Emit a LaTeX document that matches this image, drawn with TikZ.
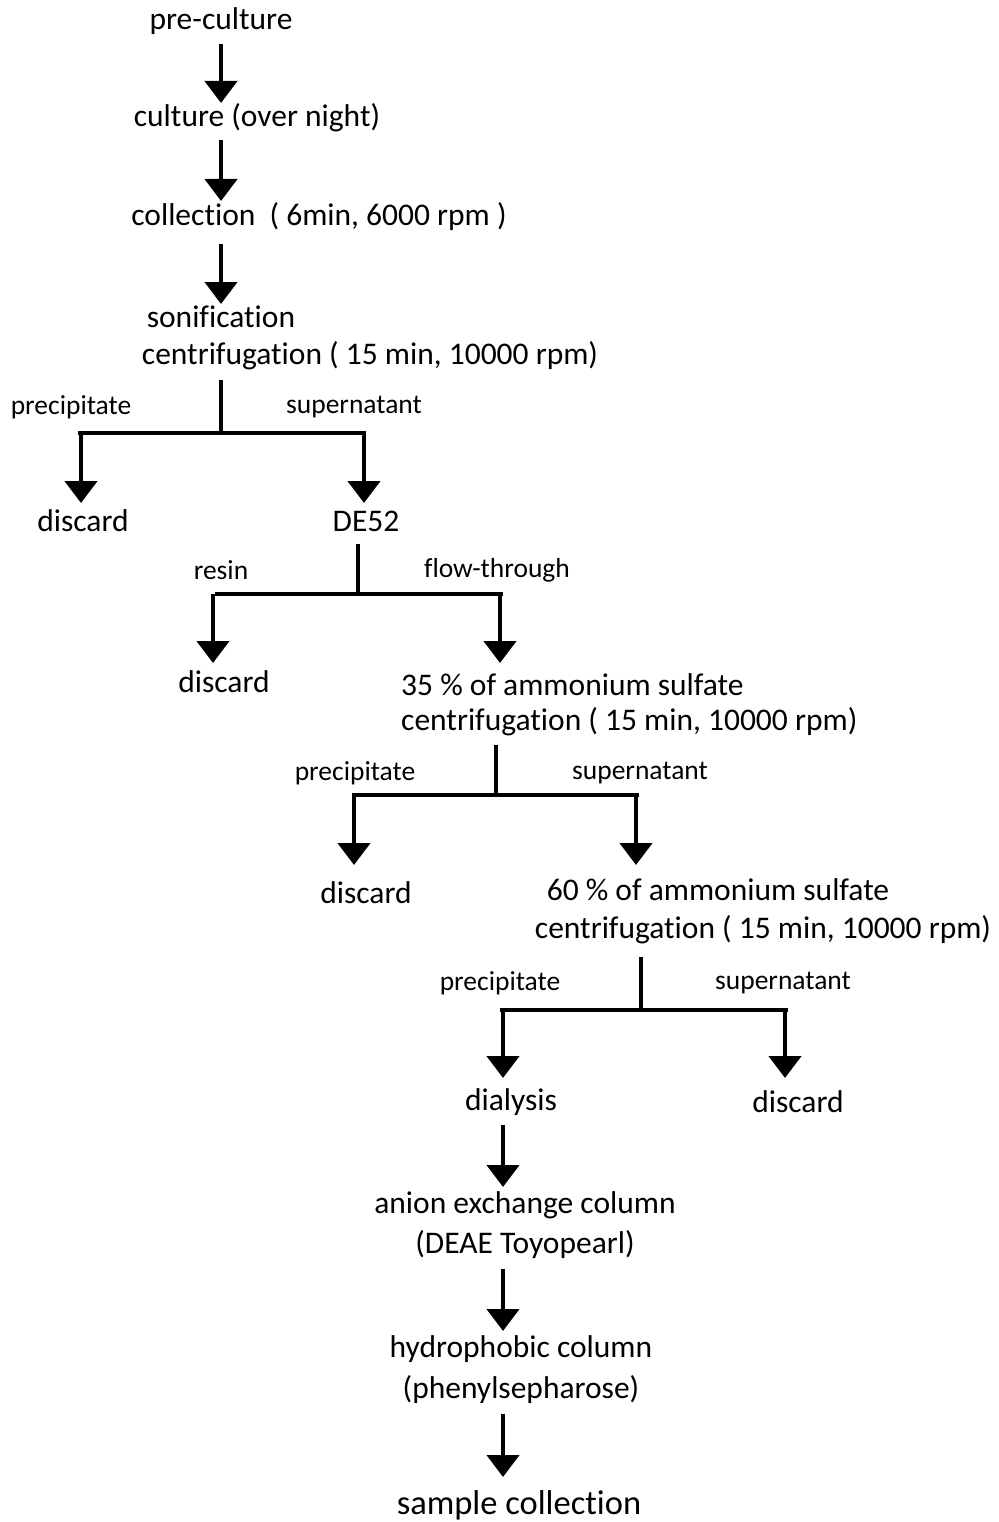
\documentclass[tikz,border=0pt]{standalone}
\usepackage{fontspec}
\setmainfont[Ligatures={NoCommon}]{Carlito}
\usetikzlibrary{arrows.meta}
\tikzset{
  main/.style={inner sep=0pt, font=\fontsize{31.5}{38}\selectfont},
  big/.style={inner sep=0pt, font=\fontsize{34.5}{41}\selectfont},
  lab/.style={inner sep=0pt, font=\fontsize{27.5}{33}\selectfont},
  arr/.style={line width=4.5pt, -{Triangle[width=32pt,length=22pt]}},
  ln/.style={line width=4.5pt},
}
\begin{document}
\begin{tikzpicture}[x=1pt,y=-1pt]
\useasboundingbox (0,0) rectangle (998,1522);
% texts
\node[main] (pre) at (221,21) {pre-culture};
\node[main] (cult) at (257,118) {culture (over night)};
\node[main] (coll) at (319,217) {collection\ \ ( 6min, 6000 rpm )};
\node[main] (soni) at (221,317) {sonification};
\node[main] (cen1) at (370,356) {centrifugation ( 15 min, 10000 rpm)};
\node[lab] (pr1) at (71,407) {precipitate};
\node[lab] (su1) at (354,407) {supernatant};
\node[main] (dis1) at (83,521) {discard};
\node[main] (de52) at (366,521) {DE52};
\node[lab] (resin) at (221,570) {resin};
\node[lab] (flow) at (497,570) {flow-through};
\node[main] (dis2) at (224,682) {discard};
\node[main,anchor=west] (am35) at (401,685) {35 \% of ammonium sulfate};
\node[main,anchor=west] (cen2) at (401,722) {centrifugation ( 15 min, 10000 rpm)};
\node[lab] (pr2) at (355,773) {precipitate};
\node[lab] (su2) at (640,773) {supernatant};
\node[main] (dis3) at (366,893) {discard};
\node[main] (am60) at (718,890) {60 \% of ammonium sulfate};
\node[main] (cen3) at (763,930) {centrifugation ( 15 min, 10000 rpm)};
\node[lab] (pr3) at (500,983) {precipitate};
\node[lab] (su3) at (783,983) {supernatant};
\node[main] (dial) at (511,1102) {dialysis};
\node[main] (dis4) at (798,1102) {discard};
\node[main] (anion) at (525,1205) {anion exchange column};
\node[main] (deae) at (525,1245) {(DEAE Toyopearl)};
\node[main] (hyd) at (521,1349) {hydrophobic column};
\node[main] (phen) at (521,1389) {(phenylsepharose)};
\node[big] (samp) at (519,1505) {sample collection};
% straight arrows
\coordinate (a1s) at (221,44);  \coordinate (a1e) at (221,103);
\coordinate (a2s) at (221,140); \coordinate (a2e) at (221,201);
\coordinate (a3s) at (221,244); \coordinate (a3e) at (221,304);
\draw[arr] (a1s) -- (a1e);
\draw[arr] (a2s) -- (a2e);
\draw[arr] (a3s) -- (a3e);
% split 1
\coordinate (s1t) at (221,380); \coordinate (s1b) at (221,433);
\coordinate (s1l) at (78,433); \coordinate (s1r) at (366,433);
\coordinate (s1le) at (81,503); \coordinate (s1re) at (364,503);
\draw[ln] (s1t) -- (s1b);
\draw[ln] (s1l) -- (s1r);
\draw[arr] (s1l -| s1le) -- (s1le);
\draw[arr] (s1r -| s1re) -- (s1re);
% split 2
\coordinate (s2t) at (358,544); \coordinate (s2b) at (358,594);
\coordinate (s2l) at (215,594); \coordinate (s2r) at (503,594);
\coordinate (s2le) at (213,663); \coordinate (s2re) at (500,663);
\draw[ln] (s2t) -- (s2b);
\draw[ln] (s2l) -- (s2r);
\draw[arr] (s2l -| s2le) -- (s2le);
\draw[arr] (s2r -| s2re) -- (s2re);
% split 3
\coordinate (s3t) at (496,745); \coordinate (s3b) at (496,795);
\coordinate (s3l) at (352,795); \coordinate (s3r) at (639,795);
\coordinate (s3le) at (354,865); \coordinate (s3re) at (636,865);
\draw[ln] (s3t) -- (s3b);
\draw[ln] (s3l) -- (s3r);
\draw[arr] (s3l -| s3le) -- (s3le);
\draw[arr] (s3r -| s3re) -- (s3re);
% split 4
\coordinate (s4t) at (641,957); \coordinate (s4b) at (641,1010);
\coordinate (s4l) at (500,1010); \coordinate (s4r) at (788,1010);
\coordinate (s4le) at (503,1078); \coordinate (s4re) at (785,1078);
\draw[ln] (s4t) -- (s4b);
\draw[ln] (s4l) -- (s4r);
\draw[arr] (s4l -| s4le) -- (s4le);
\draw[arr] (s4r -| s4re) -- (s4re);
% lower arrows
\coordinate (b1s) at (503,1125); \coordinate (b1e) at (503,1187);
\coordinate (b2s) at (503,1269); \coordinate (b2e) at (503,1331);
\coordinate (b3s) at (503,1414); \coordinate (b3e) at (503,1477);
\draw[arr] (b1s) -- (b1e);
\draw[arr] (b2s) -- (b2e);
\draw[arr] (b3s) -- (b3e);
\end{tikzpicture}
\end{document}
